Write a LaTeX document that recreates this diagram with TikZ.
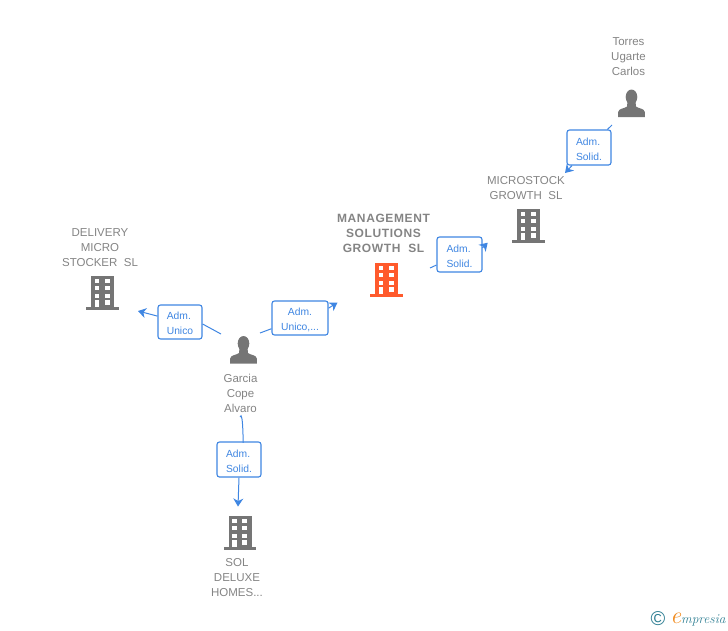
\documentclass[tikz,border=0pt]{standalone}
\usepackage{fontspec}
\setmainfont{Liberation Sans}
\usetikzlibrary{positioning,arrows.meta}
\definecolor{iconGrey}{HTML}{757575}
\definecolor{nameGrey}{HTML}{848484}
\definecolor{iconOrange}{HTML}{FF5A2C}
\definecolor{linkBlue}{HTML}{3F86E2}
\definecolor{logoTeal}{HTML}{2F7F93}
\definecolor{logoOrange}{HTML}{F08A1D}
\newcommand{\admlines}[2]{\rule{0pt}{10.5pt}#1\\#2}
\tikzset{
  entity/.style={text=nameGrey,align=center,inner sep=0pt,font=\fontsize{11.5}{15}\selectfont},
  adm/.style={draw=linkBlue,line width=1.1pt,rounded corners=2.5pt,fill=white,text=linkBlue,
    align=left,inner sep=0pt,font=\fontsize{10.3}{15}\selectfont},
  link/.style={draw=linkBlue,line width=1pt},
  building/.pic={
    \fill [#1] (-10.7,-17) rectangle (12,14);
    \fill [#1] (-16,14) rectangle (16.5,17);
    \foreach \row in {-13.7,-6.7,0.7} {
      \fill [white] (-7.3,\row) rectangle +(4.6,4);
      \fill [white] (2.7,\row) rectangle +(4.8,4);
    }
    \fill [white] (-7.3,7.3) rectangle (-2.7,14);
    \fill [white] (2.7,7.3) rectangle (7.5,12);
  },
  person/.pic={
    \fill [iconGrey] (0,-6.5) ellipse [x radius=5.8,y radius=7.5];
    \fill [iconGrey] (-13.3,13.5) -- (-13.3,8.5) .. controls (-13,5) and (-7,5) .. (-4.5,3)
      -- (-4,-2) -- (4,-2) -- (4.5,3) .. controls (7,5) and (13,5) .. (13.3,8.5) -- (13.3,13.5) -- cycle;
  }
}
\begin{document}
\begin{tikzpicture}[>={Stealth[length=8pt,width=10pt,inset=2.5pt]},x=1pt,y=-1pt]
  \useasboundingbox (0,0) rectangle (728,630);
  % icons
  \pic at (631.5,103.5) {person};
  \pic at (243.5,350) {person};
  \pic at (528,226) {building=iconGrey};
  \pic at (102,293) {building=iconGrey};
  \pic at (386,280) {building=iconOrange};
  \pic at (239.5,533) {building=iconGrey};
  % names
  \node [entity] (torres) at (628.5,56.5) {Torres\\Ugarte\\Carlos};
  \node [entity] (microstock) at (526,188) {MICROSTOCK\\GROWTH~~SL};
  \node [entity,font=\fontsize{12}{15}\selectfont\bfseries\addfontfeature{LetterSpace=5}] (management) at (383.5,233.5) {MANAGEMENT\\SOLUTIONS\\GROWTH~~SL};
  \node [entity] (delivery) at (100,247.5) {DELIVERY\\MICRO\\STOCKER~~SL};
  \node [entity] (garcia) at (240.5,393) {Garcia\\Cope\\Alvaro};
  \node [entity] (sol) at (237,577.5) {SOL\\DELUXE\\HOMES...};
  % labels
  \node [adm,minimum width=44pt,minimum height=35pt] (admTorres) at (589,147.5) {\admlines{Adm.}{Solid.}};
  \node [adm,minimum width=45pt,minimum height=35pt] (admMicro) at (459.5,254.5) {\admlines{Adm.}{Solid.}};
  \node [adm,align=center,minimum width=56pt,minimum height=34pt] (admManagement) at (300,318) {\admlines{Adm.}{Unico,...}};
  \node [adm,minimum width=44pt,minimum height=34pt] (admDelivery) at (180,322) {\admlines{Adm.}{Unico}};
  \node [adm,minimum width=44pt,minimum height=35pt] (admSol) at (239,459.5) {\admlines{Adm.}{Solid.}};
  % free ends
  \coordinate (torresOut) at (612,125);
  \coordinate (microIn) at (565,173);
  \coordinate (managementOut) at (430,268);
  \coordinate (microstockIn) at (487.7,242.7);
  \coordinate (garciaRight) at (260,333);
  \coordinate (managementIn) at (337.5,302.5);
  \coordinate (garciaLeft) at (221,334);
  \coordinate (deliveryIn) at (138,311);
  \coordinate (garciaDown) at (240,417);
  \coordinate (solIn) at (238,506.5);
  % connectors
  \draw [link] (torresOut) -- (admTorres);
  \draw [link,->] (admTorres) -- (microIn);
  \draw [link] (managementOut) -- (admMicro);
  \draw [link,->] (admMicro.16) -- (microstockIn);
  \draw [link] (garciaRight) -- (admManagement);
  \draw [link,->] (admManagement.19) -- (managementIn);
  \draw [link] (garciaLeft) -- (admDelivery.-5);
  \draw [link,->] (admDelivery) -- (deliveryIn);
  \draw [link] (garciaDown) to [out=70,in=-90] (admSol.77);
  \draw [link,->] (admSol.south) -- (solIn);
  % logo
  \node [text=logoTeal,inner sep=0pt,font=\fontsize{20}{20}\selectfont] (copy) at (658,619) {\textcopyright};
  \node [inner sep=0pt,right=4.5pt of copy,font=\fontfamily{lmr}\fontsize{13.4}{14}\selectfont\itshape,text=logoTeal] (brand)
    {\textcolor{logoOrange}{\fontsize{24}{24}\selectfont e}mpresia};
\end{tikzpicture}
\end{document}
